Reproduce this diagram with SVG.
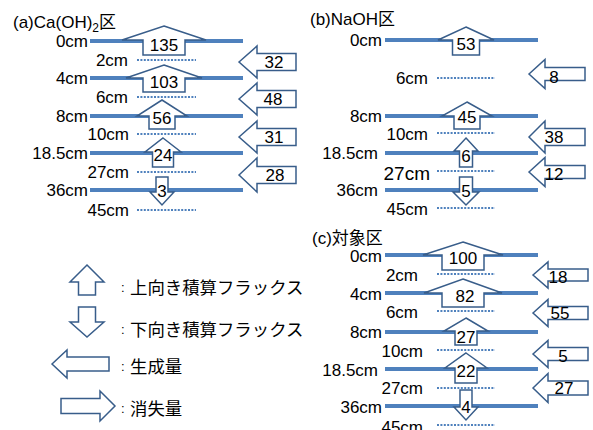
<svg xmlns="http://www.w3.org/2000/svg" width="593" height="430" viewBox="0 0 593 430">
<style>
.bg{fill:#fff}
.solid{stroke:#4F81BD;stroke-width:4;fill:none}
.dot{stroke:#4F81BD;stroke-width:2;stroke-dasharray:2 1.4;fill:none}
.arr{fill:#fff;stroke:#385D8A;stroke-width:1.5;stroke-linejoin:miter}
text{font-family:"Liberation Sans","Noto Sans CJK JP",sans-serif;font-size:17px;fill:#000}
.lab{text-anchor:end}
.num{text-anchor:middle}
.cjk{font-family:"Noto Sans CJK JP",sans-serif}
.col{font-size:13px}
</style>
<rect class="bg" x="0" y="0" width="593" height="430"/>

<!-- Panel (a) -->
<g id="panel-a">
  <text x="13" y="28">(a)Ca(OH)<tspan font-size="12" dy="4">2</tspan><tspan class="cjk" dy="-4">区</tspan></text>
  <g id="a-lines">
    <line class="solid" x1="90" y1="41" x2="243" y2="41"/>
    <line class="dot" x1="137" y1="60" x2="196" y2="60"/>
    <line class="solid" x1="90" y1="78" x2="243" y2="78"/>
    <line class="dot" x1="137" y1="97" x2="196" y2="97"/>
    <line class="solid" x1="90" y1="116" x2="243" y2="116"/>
    <line class="dot" x1="137" y1="134" x2="196" y2="134"/>
    <line class="solid" x1="90" y1="153" x2="243" y2="153"/>
    <line class="dot" x1="137" y1="172" x2="196" y2="172"/>
    <line class="solid" x1="90" y1="190" x2="243" y2="190"/>
    <line class="dot" x1="137" y1="210" x2="196" y2="210"/>
  </g>
  <g id="a-labels">
    <text class="lab" x="88" y="47">0cm</text>
    <text class="lab" x="128" y="66">2cm</text>
    <text class="lab" x="88" y="84">4cm</text>
    <text class="lab" x="128" y="103">6cm</text>
    <text class="lab" x="88" y="122">8cm</text>
    <text class="lab" x="129" y="140">10cm</text>
    <text class="lab" x="88" y="159">18.5cm</text>
    <text class="lab" x="129" y="178">27cm</text>
    <text class="lab" x="88" y="196">36cm</text>
    <text class="lab" x="129" y="216">45cm</text>
  </g>
  <g id="a-up-135"><polygon class="arr" points="164,26 206,40 185,40 185,55 143,55 143,40 122,40"/><text class="num" x="164" y="51">135</text></g>
  <g id="a-up-103"><polygon class="arr" points="164,65 202,78 185,78 185,92 143,92 143,78 126,78"/><text class="num" x="164" y="88">103</text></g>
  <g id="a-up-56"><polygon class="arr" points="162,100 187,116 175,116 175,129 149,129 149,116 137,116"/><text class="num" x="162" y="124">56</text></g>
  <g id="a-up-24"><polygon class="arr" points="163,138 181,152 173.5,152 173.5,167 152.5,167 152.5,152 145,152"/><text class="num" x="163" y="161">24</text></g>
  <g id="a-down-3"><polygon class="arr" points="156,177 168,177 168,192 174,192 162,205 150,192 156,192"/><text class="num" x="162" y="197">3</text></g>
  <g id="a-gen-32"><polygon class="arr" points="239,62 257,46 257,53.5 296,53.5 296,70.5 257,70.5 257,78"/><text class="num" x="274" y="68">32</text></g>
  <g id="a-gen-48"><polygon class="arr" points="239,99 257,83 257,90.5 296,90.5 296,107.5 257,107.5 257,115"/><text class="num" x="273" y="105">48</text></g>
  <g id="a-gen-31"><polygon class="arr" points="239,137 257,121 257,128.5 296,128.5 296,145.5 257,145.5 257,153"/><text class="num" x="274" y="143">31</text></g>
  <g id="a-gen-28"><polygon class="arr" points="239,175 257,158 257,166.5 296,166.5 296,183.5 257,183.5 257,192"/><text class="num" x="275" y="181">28</text></g>
</g>

<!-- Panel (b) -->
<g id="panel-b">
  <text x="310" y="25">(b)NaOH<tspan class="cjk">区</tspan></text>
  <g id="b-lines">
    <line class="solid" x1="385" y1="40" x2="538" y2="40"/>
    <line class="dot" x1="437" y1="78" x2="495" y2="78"/>
    <line class="solid" x1="385" y1="116" x2="538" y2="116"/>
    <line class="dot" x1="437" y1="133" x2="495" y2="133"/>
    <line class="solid" x1="385" y1="153" x2="538" y2="153"/>
    <line class="dot" x1="437" y1="171" x2="495" y2="171"/>
    <line class="solid" x1="385" y1="190" x2="538" y2="190"/>
    <line class="dot" x1="437" y1="208" x2="495" y2="208"/>
  </g>
  <g id="b-labels">
    <text class="lab" x="382" y="46">0cm</text>
    <text class="lab" x="428" y="84">6cm</text>
    <text class="lab" x="382" y="122">8cm</text>
    <text class="lab" x="428" y="140">10cm</text>
    <text class="lab" x="378" y="159">18.5cm</text>
    <text class="lab" x="430" y="180" style="font-size:19px">27cm</text>
    <text class="lab" x="378" y="196">36cm</text>
    <text class="lab" x="428" y="215">45cm</text>
  </g>
  <g id="b-up-53"><polygon class="arr" points="466,27 494,40 479.5,40 479.5,55 452.5,55 452.5,40 438,40"/><text class="num" x="466" y="50">53</text></g>
  <g id="b-up-45"><polygon class="arr" points="467,102 492,116 480,116 480,129 454,129 454,116 442,116"/><text class="num" x="467" y="123">45</text></g>
  <g id="b-up-6"><polygon class="arr" points="466,138 478,151 472.5,151 472.5,167 459.5,167 459.5,151 454,151"/><text class="num" x="466" y="162">6</text></g>
  <g id="b-down-5"><polygon class="arr" points="459.5,177 472.5,177 472.5,192 479,192 466,205 453,192 459.5,192"/><text class="num" x="466" y="197">5</text></g>
  <g id="b-gen-8"><polygon class="arr" points="529,74 545,59.5 545,67.5 585,67.5 585,80.5 545,80.5 545,88.5"/><text class="num" x="554" y="83">8</text></g>
  <g id="b-gen-38"><polygon class="arr" points="529,137 545,121 545,128.5 585,128.5 585,145.5 545,145.5 545,153"/><text class="num" x="554" y="143">38</text></g>
  <g id="b-gen-12"><polygon class="arr" points="529,172 545,157.5 545,165.5 585,165.5 585,178.5 545,178.5 545,186.5"/><text class="num" x="554" y="180">12</text></g>
</g>

<!-- Panel (c) -->
<g id="panel-c">
  <text x="312" y="244">(c)<tspan class="cjk">対象区</tspan></text>
  <g id="c-lines">
    <line class="solid" x1="385" y1="255" x2="538" y2="255"/>
    <line class="dot" x1="437" y1="274" x2="495" y2="274"/>
    <line class="solid" x1="385" y1="293" x2="538" y2="293"/>
    <line class="dot" x1="437" y1="311" x2="495" y2="311"/>
    <line class="solid" x1="385" y1="332" x2="538" y2="332"/>
    <line class="dot" x1="437" y1="350" x2="495" y2="350"/>
    <line class="solid" x1="385" y1="369" x2="538" y2="369"/>
    <line class="dot" x1="437" y1="388" x2="495" y2="388"/>
    <line class="solid" x1="385" y1="406" x2="538" y2="406"/>
    <line class="dot" x1="437" y1="425" x2="495" y2="425"/>
  </g>
  <g id="c-labels">
    <text class="lab" x="382" y="262">0cm</text>
    <text class="lab" x="418" y="281">2cm</text>
    <text class="lab" x="382" y="300">4cm</text>
    <text class="lab" x="418" y="318">6cm</text>
    <text class="lab" x="382" y="338">8cm</text>
    <text class="lab" x="423" y="357">10cm</text>
    <text class="lab" x="378" y="376">18.5cm</text>
    <text class="lab" x="423" y="394">27cm</text>
    <text class="lab" x="382" y="413">36cm</text>
    <text class="lab" x="423" y="433">45cm</text>
  </g>
  <g id="c-up-100"><polygon class="arr" points="463,242 503,255 484,255 484,270 442,270 442,255 423,255"/><text class="num" x="463" y="264">100</text></g>
  <g id="c-up-82"><polygon class="arr" points="463,279 502,293 484,293 484,307 442,307 442,293 424,293"/><text class="num" x="465" y="302">82</text></g>
  <g id="c-up-27"><polygon class="arr" points="466,318 488,331 477,331 477,345 455,345 455,331 444,331"/><text class="num" x="466" y="343">27</text></g>
  <g id="c-up-22"><polygon class="arr" points="466,353 487,368 477,368 477,383 455,383 455,368 445,368"/><text class="num" x="466" y="377">22</text></g>
  <g id="c-down-4"><polygon class="arr" points="460,390 472,390 472,407 478,407 466,420 454,407 460,407"/><text class="num" x="466" y="413">4</text></g>
  <g id="c-gen-18"><polygon class="arr" points="533,275 548,262 548,269 588,269 588,281 548,281 548,288"/><text class="num" x="558" y="283">18</text></g>
  <g id="c-gen-55"><polygon class="arr" points="533,313 548,299.5 548,306.5 588,306.5 588,319.5 548,319.5 548,326.5"/><text class="num" x="560" y="319">55</text></g>
  <g id="c-gen-5"><polygon class="arr" points="533,354 548,340.5 548,347.5 588,347.5 588,360.5 548,360.5 548,367.5"/><text class="num" x="563" y="362">5</text></g>
  <g id="c-gen-27"><polygon class="arr" points="533,388 548,373.5 548,381 588,381 588,395 548,395 548,402.5"/><text class="num" x="564" y="394">27</text></g>
</g>

<!-- Legend -->
<g id="legend">
  <g id="legend-up"><polygon class="arr" points="87,265 104,282 95.5,282 95.5,295 78.5,295 78.5,282 70,282"/><text class="col" x="121" y="292">:</text><text class="cjk" x="130" y="294" style="font-size:17.4px">上向き積算フラックス</text></g>
  <g id="legend-down"><polygon class="arr" points="78.5,307 95.5,307 95.5,322 104,322 87,337 70,322 78.5,322"/><text class="col" x="121" y="334">:</text><text class="cjk" x="130" y="336" style="font-size:17.4px">下向き積算フラックス</text></g>
  <g id="legend-gen"><polygon class="arr" points="52,364 67,350 67,357 109,357 109,371 67,371 67,378"/><text class="col" x="121" y="371">:</text><text class="cjk" x="130" y="373" style="font-size:17.4px">生成量</text></g>
  <g id="legend-loss"><polygon class="arr" points="61,398.5 100,398.5 100,391 115,406 100,421 100,413.5 61,413.5"/><text class="col" x="121" y="413">:</text><text class="cjk" x="130" y="415" style="font-size:17.4px">消失量</text></g>
</g>
</svg>
